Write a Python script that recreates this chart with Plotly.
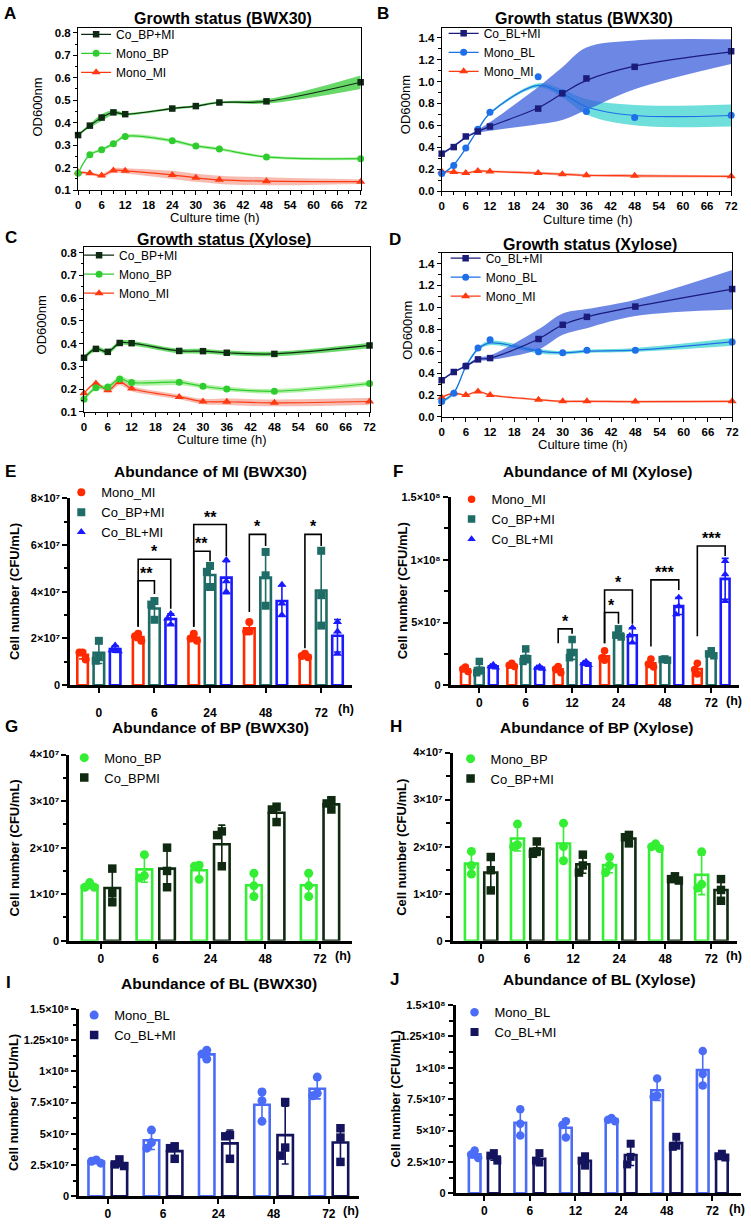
import numpy as np
import plotly.graph_objects as go

W, H = 751, 1224
FONT = "Arial, 'Liberation Sans', Helvetica, sans-serif"

# ======================= DATA =======================
hours = [0, 3, 6, 9, 12, 24, 30, 36, 48, 72]

# ---- Panel A: Growth status (BWX30), BP system ----
a_co_bp_mi = [0.345, 0.387, 0.423, 0.446, 0.438, 0.463, 0.474, 0.490, 0.495, 0.580]
a_co_bp_mi_sd = [0.005, 0.008, 0.015, 0.010, 0.006, 0.005, 0.005, 0.005, 0.010, 0.030]
a_mono_bp = [0.175, 0.258, 0.280, 0.307, 0.339, 0.320, 0.297, 0.283, 0.248, 0.240]
a_mono_bp_sd = [0.006, 0.007, 0.007, 0.007, 0.008, 0.008, 0.007, 0.007, 0.006, 0.006]
a_mono_mi = [0.180, 0.175, 0.165, 0.188, 0.186, 0.168, 0.155, 0.146, 0.140, 0.138]
a_mono_mi_sd = [0.005, 0.005, 0.008, 0.010, 0.012, 0.018, 0.018, 0.018, 0.018, 0.010]

# ---- Panel B: Growth status (BWX30), BL system ----
b_co_bl_mi = [0.342, 0.402, 0.499, 0.544, 0.590, 0.753, 0.892, 1.028, 1.134, 1.276]
b_co_bl_mi_fit = [0.340, 0.410, 0.490, 0.545, 0.590, 0.760, 0.890, 1.010, 1.140, 1.270]
b_co_bl_mi_lo = [0.330, 0.400, 0.480, 0.530, 0.550, 0.610, 0.650, 0.740, 0.930, 1.160]
b_co_bl_mi_hi = [0.350, 0.420, 0.500, 0.560, 0.630, 0.950, 1.130, 1.310, 1.375, 1.385]
b_mono_bl = [0.160, 0.233, 0.393, 0.565, 0.720, 1.043, 0.898, 0.726, 0.671, 0.692]
b_mono_bl_fit = [0.150, 0.240, 0.390, 0.560, 0.710, 0.965, 0.890, 0.770, 0.690, 0.690]
b_mono_bl_lo = [0.140, 0.230, 0.380, 0.550, 0.700, 0.945, 0.855, 0.700, 0.600, 0.590]
b_mono_bl_hi = [0.160, 0.250, 0.400, 0.570, 0.720, 0.985, 0.930, 0.840, 0.785, 0.790]
b_mono_mi = [0.180, 0.175, 0.165, 0.185, 0.180, 0.165, 0.155, 0.145, 0.140, 0.135]
b_mono_mi_sd = [0.010, 0.010, 0.010, 0.010, 0.010, 0.012, 0.012, 0.012, 0.015, 0.010]

# ---- Panel C: Growth status (Xylose), BP system ----
c_co_bp_mi = [0.338, 0.377, 0.364, 0.403, 0.402, 0.368, 0.367, 0.360, 0.355, 0.392]
c_co_bp_mi_sd = [0.008, 0.010, 0.010, 0.010, 0.010, 0.010, 0.010, 0.010, 0.010, 0.012]
c_mono_bp = [0.156, 0.206, 0.210, 0.245, 0.229, 0.230, 0.213, 0.201, 0.191, 0.225]
c_mono_bp_sd = [0.008, 0.010, 0.010, 0.012, 0.012, 0.012, 0.010, 0.010, 0.010, 0.010]
c_mono_mi = [0.182, 0.225, 0.195, 0.232, 0.203, 0.166, 0.146, 0.145, 0.140, 0.146]
c_mono_mi_sd = [0.005, 0.008, 0.010, 0.015, 0.012, 0.010, 0.012, 0.014, 0.015, 0.015]

# ---- Panel D: Growth status (Xylose), BL system ----
d_co_bl_mi = [0.335, 0.410, 0.464, 0.525, 0.537, 0.711, 0.841, 0.913, 1.007, 1.167]
d_co_bl_mi_lo = [0.325, 0.400, 0.455, 0.510, 0.520, 0.615, 0.750, 0.810, 0.920, 0.980]
d_co_bl_mi_hi = [0.345, 0.420, 0.475, 0.540, 0.560, 0.800, 0.945, 0.985, 1.070, 1.340]
d_mono_bl = [0.140, 0.217, 0.464, 0.630, 0.705, 0.594, 0.585, 0.609, 0.609, 0.684]
d_mono_bl_fit = [0.140, 0.220, 0.460, 0.620, 0.675, 0.600, 0.585, 0.600, 0.610, 0.685]
d_mono_bl_lo = [0.125, 0.205, 0.445, 0.605, 0.655, 0.580, 0.570, 0.585, 0.595, 0.650]
d_mono_bl_hi = [0.155, 0.235, 0.475, 0.635, 0.695, 0.620, 0.600, 0.615, 0.630, 0.720]
d_mono_mi = [0.178, 0.217, 0.200, 0.232, 0.200, 0.157, 0.142, 0.142, 0.140, 0.142]
d_mono_mi_sd = [0.008, 0.008, 0.008, 0.010, 0.010, 0.010, 0.010, 0.010, 0.010, 0.010]

growth_ticks = [0, 6, 12, 18, 24, 30, 36, 42, 48, 54, 60, 66, 72]

# ---- Bar panels: replicate values (CFU/mL) ----
e_groups = ["0", "6", "24", "48", "72"]
e_mono_mi = [[1.40e7, 1.40e7, 1.10e7], [2.20e7, 2.10e7, 1.90e7], [2.20e7, 2.00e7, 1.90e7],
             [2.70e7, 2.30e7, 2.30e7], [1.35e7, 1.25e7, 1.20e7]]
e_co_bp_mi = [[1.90e7, 1.20e7, 1.05e7], [3.60e7, 3.45e7, 2.80e7], [5.10e7, 4.85e7, 4.20e7],
              [5.70e7, 4.70e7, 3.40e7], [5.75e7, 3.85e7, 2.55e7]]
e_co_bl_mi = [[1.70e7, 1.50e7, 1.45e7], [3.05e7, 2.85e7, 2.60e7], [5.35e7, 4.45e7, 4.00e7],
              [4.30e7, 3.50e7, 3.00e7], [2.70e7, 2.30e7, 1.35e7]]
# significance: (group, bar_a, bar_b, bracket_y, leg_a_bottom, leg_b_bottom, label)
e_sig = [(1, 0, 1, 4.47e7, 2.50e7, 3.90e7, "**"), (1, 0, 2, 5.39e7, 2.50e7, 3.27e7, "*"),
         (2, 0, 1, 5.73e7, 2.50e7, 5.30e7, "**"), (2, 0, 2, 6.87e7, 2.50e7, 5.53e7, "**"),
         (3, 0, 1, 6.45e7, 3.13e7, 5.95e7, "*"), (4, 0, 1, 6.45e7, 1.58e7, 5.95e7, "*")]

f_groups = ["0", "6", "12", "24", "48", "72"]
f_mono_mi = [[1.45e7, 1.30e7, 1.10e7], [1.75e7, 1.60e7, 1.50e7], [1.50e7, 1.30e7, 1.00e7],
             [2.75e7, 2.20e7, 2.00e7], [2.10e7, 1.70e7, 1.45e7], [1.75e7, 1.25e7, 0.90e7]]
f_co_bp_mi = [[1.90e7, 1.20e7, 1.00e7], [2.90e7, 2.15e7, 1.90e7], [3.65e7, 2.60e7, 2.20e7],
              [4.50e7, 4.00e7, 3.85e7], [2.10e7, 2.05e7, 2.00e7], [2.75e7, 2.50e7, 2.35e7]]
f_co_bl_mi = [[1.65e7, 1.50e7, 1.40e7], [1.50e7, 1.40e7, 1.30e7], [1.90e7, 1.75e7, 1.60e7],
              [4.60e7, 3.95e7, 3.40e7], [7.00e7, 6.30e7, 5.65e7], [9.90e7, 8.85e7, 6.70e7]]
f_sig = [(2, 0, 1, 4.50e7, 3.35e7, 4.10e7, "*"), (3, 0, 1, 5.80e7, 3.35e7, 4.90e7, "*"),
         (3, 0, 2, 7.60e7, 3.35e7, 4.90e7, "*"), (4, 0, 2, 8.40e7, 3.10e7, 7.60e7, "***"),
         (5, 0, 2, 11.10e7, 3.90e7, 10.30e7, "***")]

g_groups = ["0", "6", "24", "48", "72"]
g_mono_bp = [[1.25e7, 1.15e7, 1.15e7], [1.85e7, 1.40e7, 1.35e7], [1.62e7, 1.60e7, 1.32e7],
             [1.45e7, 1.18e7, 0.95e7], [1.45e7, 1.18e7, 0.95e7]]
g_co_bpmi = [[1.55e7, 1.02e7, 0.83e7], [2.00e7, 1.50e7, 1.15e7], [2.35e7, 2.27e7, 1.60e7],
             [2.88e7, 2.82e7, 2.55e7], [3.02e7, 2.95e7, 2.82e7]]

h_groups = ["0", "6", "12", "24", "48", "72"]
h_mono_bp = [[1.90e7, 1.60e7, 1.42e7], [2.48e7, 2.04e7, 2.00e7], [2.50e7, 2.00e7, 1.70e7],
             [1.78e7, 1.60e7, 1.45e7], [2.06e7, 2.00e7, 1.96e7], [1.89e7, 1.20e7, 1.12e7]]
h_co_bp_mi = [[1.78e7, 1.50e7, 1.07e7], [2.11e7, 1.90e7, 1.85e7], [1.83e7, 1.60e7, 1.45e7],
              [2.25e7, 2.20e7, 2.07e7], [1.37e7, 1.31e7, 1.28e7], [1.31e7, 1.08e7, 0.85e7]]

i_groups = ["0", "6", "24", "48", "72"]
i_mono_bl = [[2.90e7, 2.80e7, 2.65e7], [5.30e7, 4.30e7, 3.85e7], [11.70e7, 11.40e7, 11.00e7],
             [8.35e7, 7.65e7, 6.00e7], [9.55e7, 8.25e7, 8.05e7]]
i_co_bl_mi = [[2.95e7, 2.55e7, 2.42e7], [4.00e7, 3.85e7, 3.00e7], [4.90e7, 4.80e7, 3.00e7],
              [7.55e7, 3.90e7, 3.25e7], [5.45e7, 4.70e7, 2.75e7]]

j_groups = ["0", "6", "12", "24", "48", "72"]
j_mono_bl = [[3.40e7, 3.09e7, 2.82e7], [6.70e7, 5.55e7, 4.60e7], [5.75e7, 5.45e7, 4.45e7],
             [6.00e7, 5.85e7, 5.75e7], [9.15e7, 7.80e7, 7.70e7], [11.35e7, 9.50e7, 8.60e7]]
j_co_bl_mi = [[3.20e7, 3.00e7, 2.60e7], [3.20e7, 2.60e7, 2.45e7], [2.95e7, 2.60e7, 2.20e7],
              [3.95e7, 2.90e7, 2.30e7], [4.50e7, 3.80e7, 3.70e7], [3.15e7, 2.95e7, 2.85e7]]

ytick_8e7 = [0, 2e7, 4e7, 6e7, 8e7]
ytext_8e7 = ["0", "2×10⁷", "4×10⁷", "6×10⁷", "8×10⁷"]
ytick_15e8a = [0, 5e7, 1e8, 1.5e8]
ytext_15e8a = ["0", "5×10⁷", "1×10⁸", "1.5×10⁸"]
ytick_4e7 = [0, 1e7, 2e7, 3e7, 4e7]
ytext_4e7 = ["0", "1×10⁷", "2×10⁷", "3×10⁷", "4×10⁷"]
ytick_15e8b = [0, 2.5e7, 5e7, 7.5e7, 1e8, 1.25e8, 1.5e8]
ytext_15e8b = ["0", "2.5×10⁷", "5×10⁷", "7.5×10⁷", "1×10⁸", "1.25×10⁸", "1.5×10⁸"]

# ======================= COLOURS =======================
C_CO_BP = "#0f2a12"
C_BP = "#2fcc2f"
C_MI = "#ff3a10"
C_CO_BL = "#1b1b7a"
C_BL = "#1f6fe8"
B_CO_BP = "rgba(40,200,40,0.70)"
B_BP = "rgba(130,232,110,0.60)"
B_MI = "rgba(240,120,100,0.50)"
B_CO_BL = "rgba(60,95,220,0.75)"
B_BL = "rgba(50,210,205,0.70)"

BAR_MI = "#ff2a00"
BAR_CO_BP = "#1f6b66"
BAR_CO_BL = "#1a1aff"
BAR_BP = "#33ee33"
BAR_CO_BPMI = "#0f2a10"
BAR_BL = "#4a6cf7"
BAR_CO_BL2 = "#14145e"

# ======================= FIGURE =======================
fig = go.Figure()
lay = dict(width=W, height=H, autosize=False, margin=dict(l=0, r=0, t=0, b=0, pad=0),
           paper_bgcolor="white", plot_bgcolor="white", barmode="overlay",
           showlegend=True, font=dict(family=FONT, color="black"))
annotations = []
shapes = []


def keys(i):
    s = "" if i == 1 else str(i)
    return "xaxis" + s, "yaxis" + s, "x" + s, "y" + s


def ann(x_px, y_px, text, size, bold=False, angle=0, xanchor="center", yanchor="middle"):
    annotations.append(dict(x=x_px / W, y=1 - y_px / H, xref="paper", yref="paper", text=text,
                            showarrow=False, textangle=angle, xanchor=xanchor, yanchor=yanchor,
                            font=dict(family=FONT, size=size, color="black",
                                      weight="bold" if bold else "normal")))


def legend_cfg(name, x_px, y_px, size, gap=None):
    d = dict(x=x_px / W, y=1 - y_px / H, xanchor="left", yanchor="top", bgcolor="rgba(0,0,0,0)",
             font=dict(family=FONT, size=size, color="black"), itemwidth=30, traceorder="normal")
    if gap is not None:
        d["tracegroupgap"] = gap
    lay[name] = d


# ---------- growth panels ----------
def growth_axes(i, xpx, ypx, yrange, ydtick, yfmt):
    xk, yk, xr, yr = keys(i)
    tf = dict(family=FONT, size=11.5, color="black", weight="bold")
    lay[xk] = dict(domain=[xpx[0] / W, xpx[1] / W], anchor=yr, range=[0, 72], tickmode="array",
                   tickvals=growth_ticks, ticks="outside", ticklen=4, tickwidth=1, tickcolor="black",
                   showline=True, linecolor="black", linewidth=1, mirror=True, showgrid=False,
                   zeroline=False, tickfont=tf,
                   minor=dict(ticks="outside", ticklen=2.5, tickmode="linear", tick0=0, dtick=3,
                              tickcolor="black", showgrid=False))
    lay[yk] = dict(domain=[1 - ypx[1] / H, 1 - ypx[0] / H], anchor=xr, range=yrange,
                   tickmode="linear", tick0=0, dtick=ydtick, tickformat=yfmt, ticks="outside",
                   ticklen=4, tickwidth=1, tickcolor="black", showline=True, linecolor="black",
                   linewidth=1, mirror=True, showgrid=False, zeroline=False, tickfont=tf,
                   minor=dict(ticks="outside", ticklen=2.5, tickmode="linear", tick0=0,
                              dtick=ydtick / 2, tickcolor="black", showgrid=False))


def band(i, lo, hi, color):
    _, _, xr, yr = keys(i)
    fig.add_trace(go.Scatter(x=hours, y=lo, mode="lines", line=dict(width=0, shape="spline"),
                             showlegend=False, hoverinfo="skip", xaxis=xr, yaxis=yr))
    fig.add_trace(go.Scatter(x=hours, y=hi, mode="lines", line=dict(width=0, shape="spline"),
                             fill="tonexty", fillcolor=color, showlegend=False, hoverinfo="skip",
                             xaxis=xr, yaxis=yr))


def curve(i, meas, fit, color, symbol, msize):
    _, _, xr, yr = keys(i)
    fig.add_trace(go.Scatter(x=hours, y=fit, mode="lines", line=dict(width=1.2, color=color, shape="spline"),
                             showlegend=False, hoverinfo="skip", xaxis=xr, yaxis=yr, cliponaxis=False))
    fig.add_trace(go.Scatter(x=hours, y=meas, mode="markers",
                             marker=dict(symbol=symbol, size=msize, color=color),
                             showlegend=False, xaxis=xr, yaxis=yr, cliponaxis=False))


def legend_entry(i, leg, name, color, symbol, msize):
    _, _, xr, yr = keys(i)
    fig.add_trace(go.Scatter(x=[None], y=[None], mode="lines+markers", name=name,
                             line=dict(width=1.2, color=color),
                             marker=dict(symbol=symbol, size=msize, color=color),
                             legend=leg, xaxis=xr, yaxis=yr))


def pm(vals, sd, sign):
    return [v + sign * s for v, s in zip(vals, sd)]


# Panel A
growth_axes(1, (76, 362), (22.5, 186), [0.1, 0.82], 0.1, ".1f")
band(1, pm(a_mono_mi, a_mono_mi_sd, -1), pm(a_mono_mi, a_mono_mi_sd, 1), B_MI)
band(1, pm(a_mono_bp, a_mono_bp_sd, -1), pm(a_mono_bp, a_mono_bp_sd, 1), B_BP)
band(1, pm(a_co_bp_mi, a_co_bp_mi_sd, -1), pm(a_co_bp_mi, a_co_bp_mi_sd, 1), B_CO_BP)
curve(1, a_mono_mi, a_mono_mi, C_MI, "triangle-up", 8)
curve(1, a_mono_bp, a_mono_bp, C_BP, "circle", 7)
curve(1, a_co_bp_mi, a_co_bp_mi, C_CO_BP, "square", 6.5)
legend_entry(1, "legend", "Co_BP+MI", C_CO_BP, "square", 6.5)
legend_entry(1, "legend", "Mono_BP", C_BP, "circle", 7)
legend_entry(1, "legend", "Mono_MI", C_MI, "triangle-up", 8)

# Panel B
growth_axes(2, (444, 737), (22, 187), [0, 1.49], 0.2, ".1f")
band(2, pm(b_mono_mi, b_mono_mi_sd, -1), pm(b_mono_mi, b_mono_mi_sd, 1), B_MI)
band(2, b_mono_bl_lo, b_mono_bl_hi, B_BL)
band(2, b_co_bl_mi_lo, b_co_bl_mi_hi, B_CO_BL)
curve(2, b_mono_mi, b_mono_mi, C_MI, "triangle-up", 8)
curve(2, b_mono_bl, b_mono_bl_fit, C_BL, "circle", 7)
curve(2, b_co_bl_mi, b_co_bl_mi_fit, C_CO_BL, "square", 6.5)
legend_entry(2, "legend2", "Co_BL+MI", C_CO_BL, "square", 6.5)
legend_entry(2, "legend2", "Mono_BL", C_BL, "circle", 7)
legend_entry(2, "legend2", "Mono_MI", C_MI, "triangle-up", 8)

# Panel C
growth_axes(3, (82, 371), (243, 410), [0.1, 0.826], 0.1, ".1f")
band(3, pm(c_mono_mi, c_mono_mi_sd, -1), pm(c_mono_mi, c_mono_mi_sd, 1), B_MI)
band(3, pm(c_mono_bp, c_mono_bp_sd, -1), pm(c_mono_bp, c_mono_bp_sd, 1), B_BP)
band(3, pm(c_co_bp_mi, c_co_bp_mi_sd, -1), pm(c_co_bp_mi, c_co_bp_mi_sd, 1), B_CO_BP)
curve(3, c_mono_mi, c_mono_mi, C_MI, "triangle-up", 8)
curve(3, c_mono_bp, c_mono_bp, C_BP, "circle", 7)
curve(3, c_co_bp_mi, c_co_bp_mi, C_CO_BP, "square", 6.5)
legend_entry(3, "legend3", "Co_BP+MI", C_CO_BP, "square", 6.5)
legend_entry(3, "legend3", "Mono_BP", C_BP, "circle", 7)
legend_entry(3, "legend3", "Mono_MI", C_MI, "triangle-up", 8)

# Panel D
growth_axes(4, (444, 738), (249, 415), [0, 1.5], 0.2, ".1f")
band(4, pm(d_mono_mi, d_mono_mi_sd, -1), pm(d_mono_mi, d_mono_mi_sd, 1), B_MI)
band(4, d_mono_bl_lo, d_mono_bl_hi, B_BL)
band(4, d_co_bl_mi_lo, d_co_bl_mi_hi, B_CO_BL)
curve(4, d_mono_mi, d_mono_mi, C_MI, "triangle-up", 8)
curve(4, d_mono_bl, d_mono_bl_fit, C_BL, "circle", 7)
curve(4, d_co_bl_mi, d_co_bl_mi, C_CO_BL, "square", 6.5)
legend_entry(4, "legend4", "Co_BL+MI", C_CO_BL, "square", 6.5)
legend_entry(4, "legend4", "Mono_BL", C_BL, "circle", 7)
legend_entry(4, "legend4", "Mono_MI", C_MI, "triangle-up", 8)

legend_cfg("legend", 74, 14, 12)
legend_cfg("legend2", 446, 13, 12)
legend_cfg("legend3", 77, 237, 12)
legend_cfg("legend4", 448, 240, 12)

for (x, y, t) in [(7, 8, "A"), (385, 8, "B"), (8, 234, "C"), (397, 236, "D")]:
    ann(x, y, t, 17, bold=True)
ann(223, 13, "Growth status (BWX30)", 16, bold=True)
ann(588, 13, "Growth status (BWX30)", 16, bold=True)
ann(224, 236, "Growth status (Xylose)", 16, bold=True)
ann(594, 241, "Growth status (Xylose)", 16, bold=True)
ann(215, 214, "Culture time (h)", 13)
ann(592, 216, "Culture time (h)", 13)
ann(222, 438, "Culture time (h)", 13)
ann(587, 443, "Culture time (h)", 13)
ann(34, 102, "OD600nm", 13, angle=-90)
ann(407, 100, "OD600nm", 13, angle=-90)
ann(39, 322, "OD600nm", 13, angle=-90)
ann(410, 328, "OD600nm", 13, angle=-90)


# ---------- bar panels ----------
def bar_axes(i, xpx, ypx, groups, xrange, yrange, yvals, ytext, yminor, standoff=None):
    xk, yk, xr, yr = keys(i)
    tf = dict(family=FONT, size=12, color="black", weight="bold")
    lay[xk] = dict(domain=[xpx[0] / W, xpx[1] / W], anchor=yr, range=xrange, tickmode="array",
                   tickvals=list(range(len(groups))), ticktext=groups, ticks="outside", ticklen=5,
                   tickwidth=2, tickcolor="black", showline=True, linecolor="black", linewidth=2.6,
                   showgrid=False, zeroline=False, tickfont=tf)
    if standoff is not None:
        lay[xk]["ticklabelstandoff"] = standoff
    lay[yk] = dict(domain=[1 - ypx[1] / H, 1 - ypx[0] / H], anchor=xr, range=yrange,
                   tickmode="array", tickvals=yvals, ticktext=ytext, ticks="outside", ticklen=5,
                   tickwidth=2, tickcolor="black", showline=True, linecolor="black", linewidth=2.6,
                   showgrid=False, zeroline=False,
                   tickfont=dict(family=FONT, size=11, color="black", weight="bold"),
                   minor=dict(ticks="outside", ticklen=3.5, tickwidth=1.6, tickmode="linear", tick0=0,
                              dtick=yminor, tickcolor="black", showgrid=False))


def jitter(vals, thr, d):
    offs, placed = [], []
    for v in vals:
        used = [o for (pv, o) in placed if abs(pv - v) < thr]
        for cand in (0.0, -d, d, -2 * d, 2 * d):
            if cand not in used:
                break
        offs.append(cand)
        placed.append((v, cand))
    return offs


def bar_series(i, leg, name, pts, j, nser, step, width, color, symbol, msize, yspan):
    _, _, xr, yr = keys(i)
    arr = np.array(pts)
    mean = arr.mean(axis=1)
    sd = arr.std(axis=1, ddof=1)
    pos = np.arange(len(pts)) + (j - (nser - 1) / 2) * step
    fig.add_trace(go.Bar(x=pos, y=mean, width=width,
                         marker=dict(color="white", line=dict(color=color, width=2.6)),
                         error_y=dict(type="data", array=sd, color=color, thickness=1.6, width=3.5),
                         showlegend=False, hoverinfo="skip", xaxis=xr, yaxis=yr))
    xs, ys = [], []
    for k, row in enumerate(pts):
        offs = jitter(row, 0.045 * yspan, 0.3 * width)
        for v, o in zip(row, offs):
            xs.append(pos[k] + o)
            ys.append(v)
    fig.add_trace(go.Scatter(x=xs, y=ys, mode="markers", name=name,
                             marker=dict(symbol=symbol, size=msize, color=color, line=dict(width=0)),
                             legend=leg, legendgroup=name, xaxis=xr, yaxis=yr, cliponaxis=False))


def brackets(i, sig, step, nser, label_size=16):
    _, _, xr, yr = keys(i)
    for (g, a, b, y, ya, yb, lab) in sig:
        xa = g + (a - (nser - 1) / 2) * step
        xb = g + (b - (nser - 1) / 2) * step
        shapes.append(dict(type="path", xref=xr, yref=yr,
                           path=f"M {xa},{ya} L {xa},{y} L {xb},{y} L {xb},{yb}",
                           line=dict(color="black", width=1.6)))
        annotations.append(dict(x=(xa + xb) / 2, y=y, xref=xr, yref=yr, text=lab, showarrow=False,
                                xanchor="center", yanchor="bottom", yshift=-3,
                                font=dict(family=FONT, size=label_size, color="black", weight="bold")))


# Panel E
bar_axes(5, (68, 353), (497, 686), e_groups, [-0.516, 4.55], [0, 8e7], ytick_8e7, ytext_8e7, 1e7, standoff=10)
for j, (nm, pts, col, sym) in enumerate([("Mono_MI", e_mono_mi, BAR_MI, "circle"),
                                          ("Co_BP+MI", e_co_bp_mi, BAR_CO_BP, "square"),
                                          ("Co_BL+MI", e_co_bl_mi, BAR_CO_BL, "triangle-up")]):
    bar_series(5, "legend5", nm, pts, j, 3, 0.293, 0.19, col, sym, 8, 8e7)
brackets(5, e_sig, 0.293, 3)

# Panel F
bar_axes(6, (453, 745), (496, 686), f_groups, [-0.62, 5.6], [0, 1.5e8], ytick_15e8a, ytext_15e8a, 2.5e7)
for j, (nm, pts, col, sym) in enumerate([("Mono_MI", f_mono_mi, BAR_MI, "circle"),
                                          ("Co_BP+MI", f_co_bp_mi, BAR_CO_BP, "square"),
                                          ("Co_BL+MI", f_co_bl_mi, BAR_CO_BL, "triangle-up")]):
    bar_series(6, "legend6", nm, pts, j, 3, 0.30, 0.19, col, sym, 7.5, 1.5e8)
brackets(6, f_sig, 0.30, 3)

# Panel G
bar_axes(7, (67, 353), (756, 944), g_groups, [-0.58, 4.58], [0, 4e7], ytick_4e7, ytext_4e7, 0.5e7)
bar_series(7, "legend7", "Mono_BP", g_mono_bp, 0, 2, 0.414, 0.285, BAR_BP, "circle", 9, 4e7)
bar_series(7, "legend7", "Co_BPMI", g_co_bpmi, 1, 2, 0.414, 0.285, BAR_CO_BPMI, "square", 8.5, 4e7)

# Panel H
bar_axes(8, (455, 743), (754, 944), h_groups, [-0.62, 5.56], [0, 4e7], ytick_4e7, ytext_4e7, 0.5e7)
bar_series(8, "legend8", "Mono_BP", h_mono_bp, 0, 2, 0.42, 0.283, BAR_BP, "circle", 9, 4e7)
bar_series(8, "legend8", "Co_BP+MI", h_co_bp_mi, 1, 2, 0.42, 0.283, BAR_CO_BPMI, "square", 8.5, 4e7)

# Panel I
bar_axes(9, (77, 360), (1013, 1202), i_groups, [-0.52, 4.54], [0, 1.5e8], ytick_15e8b, ytext_15e8b, 1.25e7)
bar_series(9, "legend9", "Mono_BL", i_mono_bl, 0, 2, 0.42, 0.28, BAR_BL, "circle", 9, 1.5e8)
bar_series(9, "legend9", "Co_BL+MI", i_co_bl_mi, 1, 2, 0.42, 0.28, BAR_CO_BL2, "square", 8.5, 1.5e8)

# Panel J
bar_axes(10, (458, 747), (1009, 1199), j_groups, [-0.63, 5.63], [0, 1.5e8], ytick_15e8b, ytext_15e8b, 1.25e7)
bar_series(10, "legend10", "Mono_BL", j_mono_bl, 0, 2, 0.42, 0.255, BAR_BL, "circle", 8.5, 1.5e8)
bar_series(10, "legend10", "Co_BL+MI", j_co_bl_mi, 1, 2, 0.42, 0.255, BAR_CO_BL2, "square", 8, 1.5e8)

legend_cfg("legend5", 59, 476, 13, gap=0)
legend_cfg("legend6", 454, 483, 13, gap=5.5)
legend_cfg("legend7", 62, 744, 13, gap=5)
legend_cfg("legend8", 453, 745, 13, gap=4)
legend_cfg("legend9", 72, 1004, 13, gap=4)
legend_cfg("legend10", 457, 1001, 13, gap=4)

for (x, y, t) in [(8, 470, "E"), (400, 470, "F"), (9, 728, "G"), (398, 728, "H"),
                  (6, 986, "I"), (396, 983, "J")]:
    ann(x, y, t, 17, bold=True)
ann(210, 470, "Abundance of MI (BWX30)", 15.5, bold=True)
ann(602, 470, "Abundance of MI (Xylose)", 15.5, bold=True)
ann(210, 729, "Abundance of BP (BWX30)", 15.5, bold=True)
ann(601, 729, "Abundance of BP (Xylose)", 15.5, bold=True)
ann(219, 987, "Abundance of BL (BWX30)", 15.5, bold=True)
ann(604, 983, "Abundance of BL (Xylose)", 15.5, bold=True)
for (x, y) in [(11, 591), (404, 591), (12, 850), (403, 850), (10, 1107), (397, 1104)]:
    ann(x, y, "Cell number (CFU/mL)", 13, bold=True, angle=-90)
for (x, y) in [(347, 710), (740, 702), (344, 959), (740, 959), (352, 1217), (743, 1215)]:
    ann(x, y, "(h)", 12.5, bold=True)

lay["annotations"] = annotations
lay["shapes"] = shapes
fig.update_layout(**lay)
fig.write_html("out.html", config={"displayModeBar": False},
               post_script="document.body.style.margin='0px';document.body.style.overflow='hidden';")
